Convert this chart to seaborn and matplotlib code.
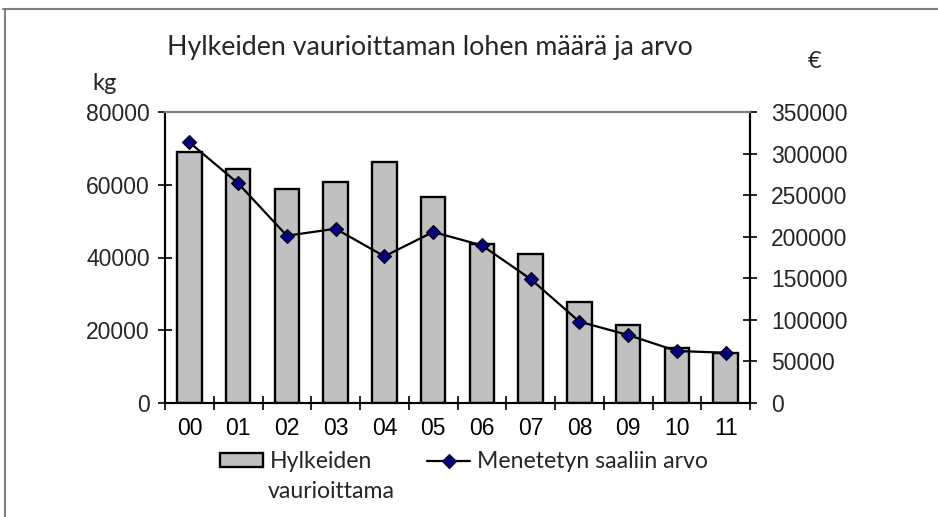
import matplotlib
matplotlib.use("Agg")
import matplotlib.pyplot as plt
import seaborn as sns
import pandas as pd
from matplotlib.lines import Line2D
from matplotlib.ticker import MultipleLocator

years = ["00", "01", "02", "03", "04", "05", "06", "07", "08", "09", "10", "11"]
kg_values = [69000, 64200, 58800, 60700, 66200, 56500, 43700, 40900, 27800, 21400, 15200, 13800]
eur_values = [313500, 264200, 201200, 209600, 176400, 205700, 189600, 149100, 97800, 81800, 62500, 60500]
left_ticks = [0, 20000, 40000, 60000, 80000]
right_ticks = [0, 50000, 100000, 150000, 200000, 250000, 300000, 350000]
bar_label_1 = "Hylkeiden"
bar_label_2 = "vaurioittama"
line_label = "Menetetyn saaliin arvo"
title = "Hylkeiden vaurioittaman lohen määrä ja arvo"

df = pd.DataFrame({"year": years, "kg": kg_values, "eur": eur_values})

sns.set_theme(style="white")
plt.rcParams["font.family"] = ["Liberation Sans", "DejaVu Sans"]

W, H = 938, 517
fig = plt.figure(figsize=(W / 100, H / 100), dpi=100)
ax = fig.add_axes([165 / W, 1 - 403 / H, 585 / W, 291 / H])

sns.barplot(data=df, x="year", y="kg", ax=ax, color="#C0C0C0", width=0.5,
            edgecolor="black", linewidth=1.7, saturation=1, legend=False)
ax2 = ax.twinx()
sns.pointplot(data=df, x="year", y="eur", ax=ax2, color="black", markers="D",
              linewidth=1.6, markersize=7, legend=False)
for ln in ax2.lines:
    ln.set_markerfacecolor("#000080")
    ln.set_markeredgecolor("black")
    ln.set_markeredgewidth(0.8)
for a in (ax, ax2):
    if a.get_legend() is not None:
        a.get_legend().remove()

ax.set_xlim(-0.5, len(years) - 0.5)
ax.set_ylim(0, 80000)
ax2.set_ylim(0, 350000)
ax.set_yticks(left_ticks)
ax2.set_yticks(right_ticks)
ax.set_xlabel("")
ax.set_ylabel("")
ax2.set_ylabel("")

tick_fs = 16.5
ax.tick_params(axis="x", which="major", length=0, labelsize=tick_fs, pad=10, colors="black")
ax.xaxis.set_minor_locator(MultipleLocator(1, offset=0.5))
ax.tick_params(axis="x", which="minor", bottom=True, direction="inout", length=10, width=1.2, color="black")
ax.tick_params(axis="y", left=True, direction="inout", length=10, width=1.2, labelsize=tick_fs, pad=6, color="black")
ax2.tick_params(axis="y", right=True, direction="inout", length=10, width=1.2, labelsize=tick_fs, pad=10, color="black")

for a in (ax, ax2):
    for s in a.spines.values():
        s.set_visible(True)
        s.set_linewidth(1.5)
        s.set_color("black")
    a.spines["top"].set_color("#808080")
    a.grid(False)
ax.set_facecolor("white")

tfont = ["Lato", "DejaVu Sans"]
leg_fs = 16.6
fig.text(430 / W, 1 - 48 / H, title, ha="center", va="center", fontsize=19.3, family=tfont)
fig.text(105 / W, 1 - 84 / H, "kg", ha="center", va="center", fontsize=17, family=tfont)
fig.text(815 / W, 1 - 62 / H, "€", ha="center", va="center", fontsize=17, family=tfont)

handles = [plt.Rectangle((0, 0), 1, 1, facecolor="#C0C0C0", edgecolor="black", linewidth=1.7),
           Line2D([], [], color="black", lw=1.6, marker="D", markersize=7,
                  markerfacecolor="#000080", markeredgecolor="black", markeredgewidth=0.8)]
leg = fig.legend(handles, [bar_label_1, line_label], loc="center left",
                 bbox_to_anchor=(220 / W, 1 - 462 / H), ncol=2, frameon=False,
                 prop={"family": tfont, "size": leg_fs}, handlelength=1.85, handleheight=0.55,
                 handletextpad=0.3, columnspacing=2.4, borderpad=0, borderaxespad=0)
fig.text(268 / W, 1 - 492 / H, bar_label_2, ha="left", va="center", fontsize=leg_fs, family=tfont)

fig.add_artist(Line2D([3 / W, 1], [1 - 9 / H, 1 - 9 / H], color="#808080", lw=1.5, transform=fig.transFigure))
fig.add_artist(Line2D([5 / W, 5 / W], [0, 1 - 9 / H], color="#808080", lw=1.5, transform=fig.transFigure))

fig.savefig("out.png", dpi=100, facecolor="white")
